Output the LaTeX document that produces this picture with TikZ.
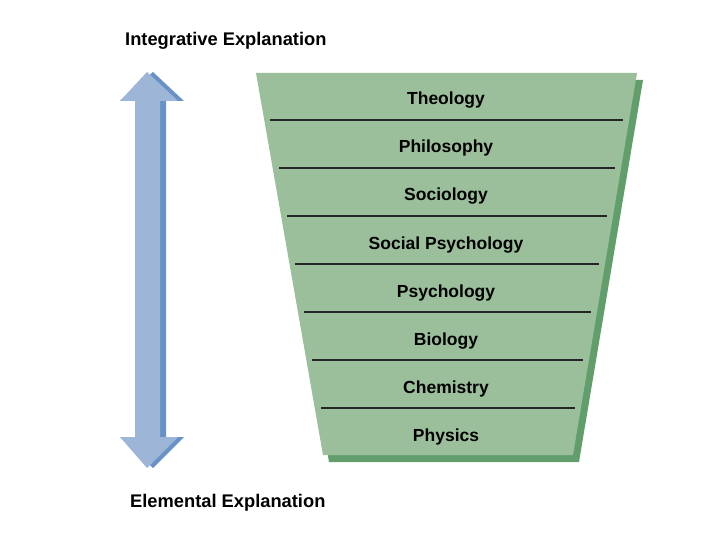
\documentclass[tikz,border=0pt]{standalone}
\usepackage{fontspec}
\setmainfont{Liberation Sans}
\definecolor{layergreen}{RGB}{155,191,155}
\definecolor{shadowgreen}{RGB}{98,158,108}
\definecolor{arrowlight}{RGB}{157,182,216}
\definecolor{arrowdark}{RGB}{104,146,198}
\tikzset{
  layerlabel/.style={font=\fontsize{17.5}{20}\selectfont\bfseries, inner sep=0pt, anchor=base},
  heading/.style={font=\fontsize{18.3}{22}\selectfont\bfseries, inner sep=0pt, anchor=base west},
  sepline/.style={draw=black!85, line width=1.1pt}
}
\begin{document}
\begin{tikzpicture}[x=1pt,y=-1pt]
\useasboundingbox (0,0) rectangle (720,540);
% arrow (shadow then light)
\fill[arrowdark] (153,72) -- (184,101) -- (166,101) -- (166,437) -- (184,437) -- (153,468) -- (120,437) -- (135,437) -- (135,101) -- (120,101) -- cycle;
\fill[arrowlight] (147,72) -- (178,101) -- (160,101) -- (160,437) -- (178,437) -- (147,468) -- (120,437) -- (135,437) -- (135,101) -- (120,101) -- cycle;
% funnel
\fill[shadowgreen] (262,80) -- (643,80) -- (579,462) -- (329,462) -- cycle;
\fill[layergreen] (256,73) -- (637,73) -- (573,455) -- (323,455) -- cycle;
\draw[sepline] (270,120) -- (623,120);
\draw[sepline] (279,168) -- (615,168);
\draw[sepline] (287,216) -- (607,216);
\draw[sepline] (295,264) -- (599,264);
\draw[sepline] (304,312) -- (591,312);
\draw[sepline] (312,360) -- (583,360);
\draw[sepline] (321,408) -- (575,408);
\node[layerlabel] (theo) at (446,105) {Theology};
\node[layerlabel] (phil) at (446,153) {Philosophy};
\node[layerlabel] (soc) at (446,201) {Sociology};
\node[layerlabel] (socpsy) at (446,249) {Social Psychology};
\node[layerlabel] (psy) at (446,297) {Psychology};
\node[layerlabel] (bio) at (446,345) {Biology};
\node[layerlabel] (chem) at (446,393) {Chemistry};
\node[layerlabel] (phys) at (446,441) {Physics};
\node[heading] (integ) at (125,46) {Integrative Explanation};
\node[heading] (elem) at (130,507) {Elemental Explanation};
\end{tikzpicture}
\end{document}
